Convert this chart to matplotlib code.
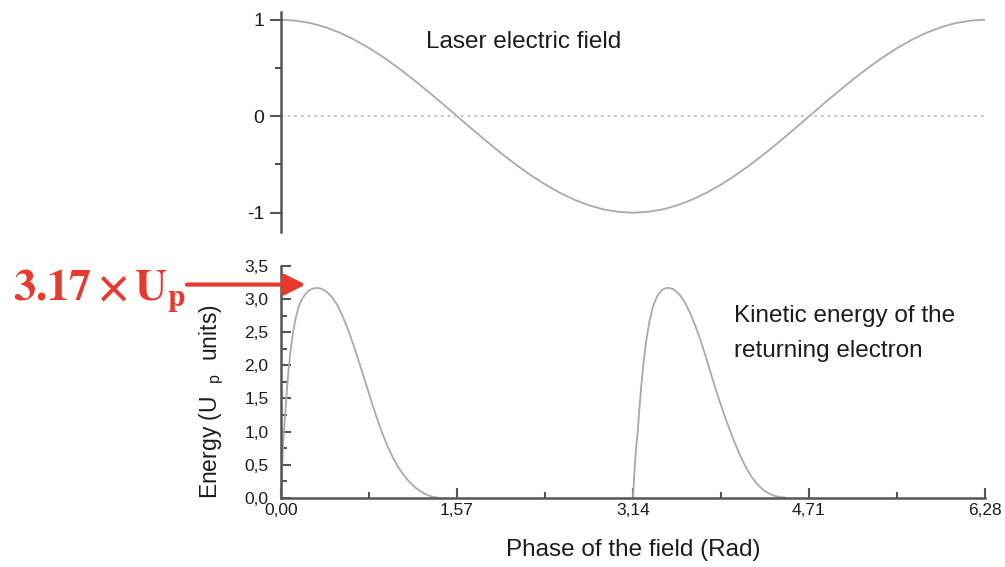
import matplotlib.pyplot as plt
from matplotlib.ticker import MultipleLocator, FixedLocator

# ======================
# Data
# ======================
field_phase = [0.000, 0.131, 0.262, 0.393, 0.524, 0.654, 0.785, 0.916, 1.047, 1.178,
               1.309, 1.440, 1.571, 1.702, 1.833, 1.963, 2.094, 2.225, 2.356, 2.487,
               2.618, 2.749, 2.880, 3.011, 3.142, 3.272, 3.403, 3.534, 3.665, 3.796,
               3.927, 4.058, 4.189, 4.320, 4.451, 4.581, 4.712, 4.843, 4.974, 5.105,
               5.236, 5.367, 5.498, 5.629, 5.760, 5.891, 6.021, 6.152, 6.283]
field_value = [1.000, 0.991, 0.966, 0.924, 0.866, 0.793, 0.707, 0.609, 0.500, 0.383,
               0.259, 0.131, 0.000, -0.131, -0.259, -0.383, -0.500, -0.609, -0.707, -0.793,
               -0.866, -0.924, -0.966, -0.991, -1.000, -0.991, -0.966, -0.924, -0.866, -0.793,
               -0.707, -0.609, -0.500, -0.383, -0.259, -0.131, 0.000, 0.131, 0.259, 0.383,
               0.500, 0.609, 0.707, 0.793, 0.866, 0.924, 0.966, 0.991, 1.000]

lobe1_phase = [0.000, 0.005, 0.010, 0.020, 0.030, 0.040, 0.055, 0.070, 0.090, 0.110,
               0.135, 0.160, 0.190, 0.220, 0.250, 0.285, 0.320, 0.355, 0.400, 0.450,
               0.500, 0.550, 0.600, 0.650, 0.700, 0.750, 0.800, 0.850, 0.900, 0.950,
               1.000, 1.050, 1.100, 1.150, 1.200, 1.250, 1.300, 1.350, 1.400]
lobe1_energy = [0.00, 0.25, 0.48, 0.86, 1.10, 1.32, 1.68, 1.98, 2.29, 2.53,
                2.74, 2.90, 3.01, 3.08, 3.13, 3.16, 3.17, 3.16, 3.12, 3.04,
                2.92, 2.74, 2.53, 2.29, 2.03, 1.76, 1.49, 1.23, 0.99, 0.78,
                0.60, 0.45, 0.33, 0.23, 0.15, 0.09, 0.045, 0.015, 0.00]

lobe2_phase = [3.140, 3.150, 3.160, 3.170, 3.180, 3.195, 3.210, 3.230, 3.255, 3.285,
               3.320, 3.360, 3.400, 3.430, 3.460, 3.500, 3.550, 3.600, 3.650, 3.700,
               3.750, 3.800, 3.850, 3.900, 3.950, 4.000, 4.050, 4.100, 4.150, 4.200,
               4.250, 4.300, 4.350, 4.400, 4.450, 4.500]
lobe2_energy = [0.00, 0.30, 0.58, 0.80, 0.95, 1.30, 1.62, 1.98, 2.34, 2.65,
                2.90, 3.06, 3.14, 3.165, 3.17, 3.15, 3.08, 2.96, 2.79, 2.58,
                2.34, 2.07, 1.79, 1.52, 1.27, 1.04, 0.82, 0.62, 0.45, 0.31,
                0.20, 0.12, 0.065, 0.03, 0.01, 0.00]

phase_ticks = [0.00, 1.57, 3.14, 4.71, 6.28]
phase_labels = ["0,00", "1,57", "3,14", "4,71", "6,28"]
energy_ticks = [0.0, 0.5, 1.0, 1.5, 2.0, 2.5, 3.0, 3.5]
energy_labels = ["0,0", "0,5", "1,0", "1,5", "2,0", "2,5", "3,0", "3,5"]

# ======================
# Style
# ======================
plt.rcParams["font.family"] = ["Liberation Sans", "DejaVu Sans"]
plt.rcParams["mathtext.fontset"] = "custom"
plt.rcParams["mathtext.rm"] = "Liberation Sans"
plt.rcParams["mathtext.it"] = "Liberation Sans:italic"
plt.rcParams["mathtext.bf"] = "Liberation Sans:bold"

curve_col = "#a9a9a9"
spine_col = "#555555"
text_col = "#1c1c1c"
red = "#e8392e"

fig = plt.figure(figsize=(10.05, 5.67), dpi=100)

# ======================
# Top panel: laser field
# ======================
ax1 = fig.add_axes([0.2796, 0.5908, 0.7005, 0.388])
ax1.plot(field_phase, field_value, color=curve_col, lw=1.3)
ax1.axhline(0, color="#b5b5b5", lw=1.2, ls=(0, (1.5, 2.5)))
ax1.set_xlim(0, 6.28)
ax1.set_ylim(-1.2, 1.08)
for s in ["top", "right", "bottom"]:
    ax1.spines[s].set_visible(False)
ax1.spines["left"].set_color(spine_col)
ax1.spines["left"].set_linewidth(1.8)
ax1.set_xticks([])
ax1.set_yticks([-1, 0, 1])
ax1.set_yticklabels(["-1", "0", "1"])
ax1.yaxis.set_minor_locator(FixedLocator([-0.5, 0.5]))
ax1.tick_params(axis="y", which="major", direction="out", length=8, width=1.5,
                color=spine_col, labelsize=14, labelcolor=text_col, pad=4)
ax1.tick_params(axis="y", which="minor", direction="out", length=4.5, width=1.5,
                color=spine_col)
ax1.text(1.29, 0.77, "Laser electric field", fontsize=17.5, color=text_col,
         va="center", ha="left")

# ======================
# Bottom panel: kinetic energy
# ======================
ax2 = fig.add_axes([0.2796, 0.1222, 0.7005, 0.4086])
ax2.plot(lobe1_phase, lobe1_energy, color=curve_col, lw=1.3, clip_on=False)
ax2.plot(lobe2_phase, lobe2_energy, color=curve_col, lw=1.3)
ax2.set_xlim(0, 6.28)
ax2.set_ylim(0, 3.5)
for s in ["top", "right"]:
    ax2.spines[s].set_visible(False)
for s in ["left", "bottom"]:
    ax2.spines[s].set_color(spine_col)
    ax2.spines[s].set_linewidth(1.8)
ax2.set_xticks(phase_ticks)
ax2.set_xticklabels(phase_labels)
ax2.set_yticks(energy_ticks)
ax2.set_yticklabels(energy_labels)
ax2.xaxis.set_minor_locator(MultipleLocator(0.785))
ax2.yaxis.set_minor_locator(MultipleLocator(0.25))
ax2.tick_params(which="major", direction="in", length=7, width=1.5,
                color=spine_col, labelsize=12.5, labelcolor=text_col)
ax2.tick_params(which="minor", direction="in", length=4, width=1.5,
                color=spine_col)
ax2.tick_params(axis="x", pad=4)
ax2.tick_params(axis="y", pad=9)

ax2.set_xlabel("Phase of the field (Rad)", fontsize=17.5, color=text_col, labelpad=15)
ax2.set_ylabel("Energy (U  $_{\\rm p}$  units)", fontsize=16.5, color=text_col)
ax2.yaxis.set_label_coords(-0.078, 0.415)

ax2.text(4.04, 2.66, "Kinetic energy of the", fontsize=17.5, color=text_col,
         va="baseline")
ax2.text(4.04, 2.13, "returning electron", fontsize=17.5, color=text_col,
         va="baseline")

# red annotation for the cutoff
ax2.annotate("", xy=(0.22, 3.22), xytext=(-0.84, 3.22), annotation_clip=False,
             arrowprops=dict(arrowstyle="-|>", color=red, lw=3,
                             mutation_scale=32, shrinkA=0, shrinkB=0))
fig.text(0.013, 0.471, r"$\mathbf{3.17\times U_p}$", color=red, fontsize=32,
         math_fontfamily="stix", va="baseline", ha="left")

fig.savefig("out.png", dpi=100)
